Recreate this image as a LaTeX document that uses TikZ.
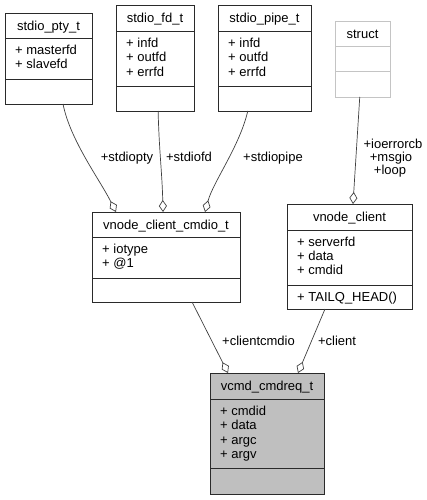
\documentclass[tikz,border=0pt]{standalone}
\usepackage{fontspec}
\setmainfont{Liberation Sans}
\usetikzlibrary{arrows.meta,calc}
\definecolor{edgecol}{HTML}{404040}
\definecolor{boxcol}{HTML}{2A2A2A}
\definecolor{graycol}{HTML}{C4C4C4}
\definecolor{fillcol}{HTML}{BFBFBF}
\begin{document}
\begin{tikzpicture}[x=1pt,y=-1pt,
  every node/.append style={font=\fontsize{13}{14.4}\selectfont},
  box/.style={draw=boxcol, line width=0.9pt, inner sep=0pt, outer sep=0pt, anchor=north west},
  gbox/.style={box, draw=graycol},
  sepline/.style={draw=boxcol, line width=0.9pt},
  gsepline/.style={draw=graycol, line width=0.9pt},
  ttl/.style={anchor=base, inner sep=0pt},
  attr/.style={anchor=base west, inner sep=0pt},
  lbl/.style={anchor=base, inner sep=0pt},
  rel/.style={draw=edgecol, line width=0.7pt, -{Diamond[open,length=12pt,width=8pt,line width=0.7pt]}}]
\useasboundingbox (0,0) rectangle (426,500);

% stdio_pty_t
\node[box, minimum width=87pt, minimum height=91pt] (pty) at (5,13) {};
\draw[sepline] ($(pty.north west)+(0,25)$) -- ($(pty.north east)+(0,25)$);
\draw[sepline] ($(pty.north west)+(0,66)$) -- ($(pty.north east)+(0,66)$);
\node[ttl] (ptyT) at ($(pty.north)+(0,17.5)$) {stdio\_pty\_t};
\node[attr] (ptyA1) at ($(pty.north west)+(10,41.5)$) {+ masterfd};
\node[attr] (ptyA2) at ($(pty.north west)+(10,55.9)$) {+ slavefd};

% stdio_fd_t
\node[box, minimum width=78pt, minimum height=106pt] (fd) at (116,5) {};
\draw[sepline] ($(fd.north west)+(0,26)$) -- ($(fd.north east)+(0,26)$);
\draw[sepline] ($(fd.north west)+(0,81)$) -- ($(fd.north east)+(0,81)$);
\node[ttl] (fdT) at ($(fd.north)+(0,17.5)$) {stdio\_fd\_t};
\node[attr] (fdA1) at ($(fd.north west)+(10,42.5)$) {+ infd};
\node[attr] (fdA2) at ($(fd.north west)+(10,56.9)$) {+ outfd};
\node[attr] (fdA3) at ($(fd.north west)+(10,71.3)$) {+ errfd};

% stdio_pipe_t
\node[box, minimum width=93pt, minimum height=106pt] (pipe) at (218,5) {};
\draw[sepline] ($(pipe.north west)+(0,26)$) -- ($(pipe.north east)+(0,26)$);
\draw[sepline] ($(pipe.north west)+(0,81)$) -- ($(pipe.north east)+(0,81)$);
\node[ttl] (pipeT) at ($(pipe.north)+(0,17.5)$) {stdio\_pipe\_t};
\node[attr] (pipeA1) at ($(pipe.north west)+(10,42.5)$) {+ infd};
\node[attr] (pipeA2) at ($(pipe.north west)+(10,56.9)$) {+ outfd};
\node[attr] (pipeA3) at ($(pipe.north west)+(10,71.3)$) {+ errfd};

% struct
\node[gbox, minimum width=55pt, minimum height=76pt] (st) at (335,21) {};
\draw[gsepline] ($(st.north west)+(0,25)$) -- ($(st.north east)+(0,25)$);
\draw[gsepline] ($(st.north west)+(0,50)$) -- ($(st.north east)+(0,50)$);
\node[ttl] (stT) at ($(st.north)+(0,17.5)$) {struct};

% vnode_client_cmdio_t
\node[box, minimum width=148pt, minimum height=90pt] (cmdio) at (92,212) {};
\draw[sepline] ($(cmdio.north west)+(0,25)$) -- ($(cmdio.north east)+(0,25)$);
\draw[sepline] ($(cmdio.north west)+(0,66)$) -- ($(cmdio.north east)+(0,66)$);
\node[ttl] (cmdioT) at ($(cmdio.north)+(0,17.5)$) {vnode\_client\_cmdio\_t};
\node[attr] (cmdioA1) at ($(cmdio.north west)+(10,41.5)$) {+ iotype};
\node[attr] (cmdioA2) at ($(cmdio.north west)+(10,55.9)$) {+ @1};

% vnode_client
\node[box, minimum width=125pt, minimum height=105pt] (vc) at (287,204) {};
\draw[sepline] ($(vc.north west)+(0,26)$) -- ($(vc.north east)+(0,26)$);
\draw[sepline] ($(vc.north west)+(0,81)$) -- ($(vc.north east)+(0,81)$);
\node[ttl] (vcT) at ($(vc.north)+(0,17.5)$) {vnode\_client};
\node[attr] (vcA1) at ($(vc.north west)+(10,42)$) {+ serverfd};
\node[attr] (vcA2) at ($(vc.north west)+(10,56.4)$) {+ data};
\node[attr] (vcA3) at ($(vc.north west)+(10,70.8)$) {+ cmdid};
\node[attr] (vcM1) at ($(vc.north west)+(10,97)$) {+ TAILQ\_HEAD()};

% vcmd_cmdreq_t
\node[box, fill=fillcol, minimum width=114pt, minimum height=121pt] (req) at (210,373) {};
\draw[sepline] ($(req.north west)+(0,26)$) -- ($(req.north east)+(0,26)$);
\draw[sepline] ($(req.north west)+(0,95)$) -- ($(req.north east)+(0,95)$);
\node[ttl] (reqT) at ($(req.north)+(0,17.5)$) {vcmd\_cmdreq\_t};
\node[attr] (reqA1) at ($(req.north west)+(10,42.5)$) {+ cmdid};
\node[attr] (reqA2) at ($(req.north west)+(10,56.9)$) {+ data};
\node[attr] (reqA3) at ($(req.north west)+(10,71.3)$) {+ argc};
\node[attr] (reqA4) at ($(req.north west)+(10,85.7)$) {+ argv};

% connection points
\coordinate (ptyO) at ($(pty.south west)!0.667!(pty.south east)$);
\coordinate (fdO) at ($(fd.south west)!0.54!(fd.south east)$);
\coordinate (pipeO) at ($(pipe.south west)!0.32!(pipe.south east)$);
\coordinate (stO) at ($(st.south west)!0.45!(st.south east)$);
\coordinate (cmdioI1) at ($(cmdio.north west)!0.162!(cmdio.north east)$);
\coordinate (cmdioI2) at ($(cmdio.north west)!0.48!(cmdio.north east)$);
\coordinate (cmdioI3) at ($(cmdio.north west)!0.764!(cmdio.north east)$);
\coordinate (vcI) at ($(vc.north west)!0.528!(vc.north east)$);
\coordinate (cmdioO) at ($(cmdio.south west)!0.676!(cmdio.south east)$);
\coordinate (vcO) at ($(vc.south west)!0.304!(vc.south east)$);
\coordinate (reqI1) at ($(req.north west)!0.158!(req.north east)$);
\coordinate (reqI2) at ($(req.north west)!0.772!(req.north east)$);

% connectors
\draw[rel] (ptyO) .. controls +(7,36) and +(-16,-32) .. (cmdioI1);
\draw[rel] (fdO) .. controls +(1,40) and +(-1,-40) .. (cmdioI2);
\draw[rel] (pipeO) .. controls +(-8,35) and +(8,-30) .. (cmdioI3);
\draw[rel] (stO) -- (vcI);
\draw[rel] (cmdioO) -- (reqI1);
\draw[rel] (vcO) -- (reqI2);

% labels
\node[lbl] (l1) at (127,161) {+stdiopty};
\node[lbl] (l2) at (189,161) {+stdiofd};
\node[lbl] (l3) at (273,161) {+stdiopipe};
\node[lbl] (l4) at (393,148) {+ioerrorcb};
\node[lbl] (l5) at (391,161) {+msgio};
\node[lbl] (l6) at (390,174.5) {+loop};
\node[lbl] (l7) at (258.5,345.5) {+clientcmdio};
\node[lbl] (l8) at (337,345.5) {+client};
\end{tikzpicture}
\end{document}
